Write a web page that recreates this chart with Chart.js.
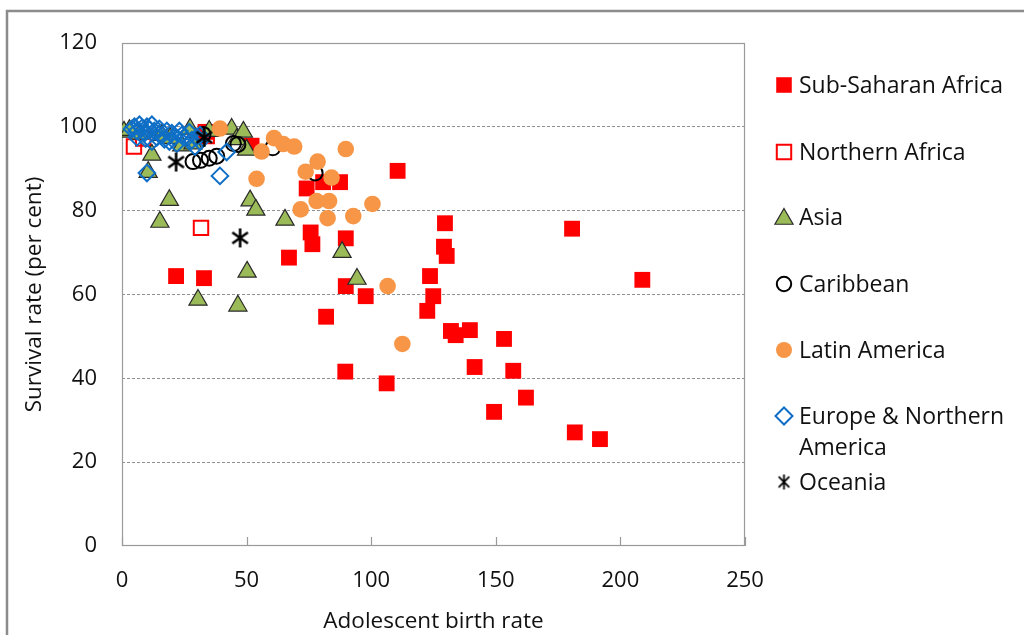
<!DOCTYPE html>
<html>
<head>
<meta charset="utf-8">
<script src="https://cdn.jsdelivr.net/npm/chart.js@4/dist/chart.umd.min.js"></script>
<style>
  html, body { margin: 0; padding: 0; background: #ffffff; }
  #wrap { position: relative; width: 1024px; height: 635px; overflow: hidden; }
</style>
</head>
<body>
<div id="wrap"><canvas id="c" width="1024" height="635"></canvas></div>
<script>
// ---------------- DATA ----------------
const seriesNames = ["Sub-Saharan Africa", "Northern Africa", "Asia", "Caribbean", "Latin America", "Europe & Northern America", "Oceania"];
const xTickValues = [0, 50, 100, 150, 200, 250];
const yTickValues = [0, 20, 40, 60, 80, 100, 120];
const xAxisTitle = "Adolescent birth rate";
const yAxisTitle = "Survival rate (per cent)";

const ssaX = [21.7, 32.9, 67.0, 74.1, 80.7, 87.5, 110.6, 75.7, 76.4, 89.8, 89.8, 97.8, 81.9, 89.6, 106.2, 129.6, 129.2, 130.3, 123.6, 124.9, 122.5, 132.0, 133.9, 139.6, 141.5, 153.3, 157.0, 162.1, 149.3, 181.7, 191.8, 180.6, 208.8, 33.5, 52.0];
const ssaY = [64.4, 63.9, 68.8, 85.3, 86.8, 86.8, 89.5, 74.8, 72.0, 73.4, 62.0, 59.6, 54.7, 41.6, 38.8, 77.0, 71.4, 69.2, 64.4, 59.6, 56.1, 51.3, 50.3, 51.5, 42.7, 49.4, 41.8, 35.4, 32.0, 27.1, 25.5, 75.7, 63.5, 98.8, 95.5];

const nafX = [4.8, 8.5, 31.7, 34.0];
const nafY = [95.3, 97.2, 75.9, 97.8];

const asiaX = [0.8, 3.0, 7.0, 12.0, 10.5, 15.2, 16.0, 19.0, 19.3, 24.0, 27.3, 28.5, 30.5, 35.0, 44.0, 46.0, 48.7, 50.0, 46.5, 50.2, 51.4, 53.7, 65.4, 88.3, 94.3];
const asiaY = [98.8, 99.2, 98.3, 93.3, 89.2, 77.3, 98.0, 82.5, 97.3, 95.5, 99.5, 96.0, 58.7, 99.0, 99.5, 97.0, 98.8, 94.5, 57.3, 65.4, 82.4, 80.2, 77.8, 70.1, 63.7];

const cariX = [28.5, 31.5, 35.0, 38.0, 32.5, 44.7, 46.5, 60.5, 77.5];
const cariY = [91.7, 92.0, 92.5, 93.0, 98.2, 96.0, 95.8, 95.0, 89.0];

const latX = [39.3, 56.0, 54.0, 61.0, 64.7, 69.1, 89.8, 78.5, 73.7, 84.1, 78.1, 83.1, 71.7, 82.5, 92.8, 100.5, 106.6, 112.5];
const latY = [99.6, 94.1, 87.6, 97.3, 95.9, 95.3, 94.7, 91.7, 89.3, 87.9, 82.3, 82.3, 80.3, 78.2, 78.7, 81.6, 62.0, 48.2];

const eurX = [4, 5, 6, 7, 8, 9, 10, 11, 12, 13, 14, 15, 16, 17, 18, 19, 20, 21, 22, 23, 24, 25, 27, 28, 9.5, 12, 6, 30, 10, 39.3, 42, 31.3, 29.3, 31.3];
const eurY = [99.5, 100, 99, 100.5, 99.7, 98.5, 100, 99.3, 100.5, 99, 97.5, 99.5, 98, 97, 99, 96.5, 98.5, 97.5, 96, 99, 98, 97.5, 98.7, 96.8, 97.2, 96.5, 97.5, 97.6, 89, 88.3, 94, 98, 95.3, 96.5];

const oceX = [21.7, 47.4, 33.0];
const oceY = [91.6, 73.5, 97.5];

// ---------------- STYLE ----------------
const FONT = "'Open Sans', Lato, 'DejaVu Sans', sans-serif";
const TEXT = "#111111";
const FS_TICK = 22;
const FS_TITLE = 22.5;
const FS_LEGEND = 23;

function makeAsterisk(size, lw, color, angles) {
  const c = document.createElement('canvas');
  c.width = size; c.height = size;
  const g = c.getContext('2d');
  g.strokeStyle = color; g.lineWidth = lw; g.lineCap = 'butt';
  const cx = size / 2, cy = size / 2, r = size / 2 - 1;
  g.beginPath();
  for (const a of angles) {
    const rad = a * Math.PI / 180;
    g.moveTo(cx - r * Math.cos(rad), cy - r * Math.sin(rad));
    g.lineTo(cx + r * Math.cos(rad), cy + r * Math.sin(rad));
  }
  g.stroke();
  return c;
}
const asteriskPlot = makeAsterisk(21, 2.6, '#000', [90, 35, 145]);
const asteriskLegend = makeAsterisk(17, 1.8, '#000', [90, 45, 135]);

function pts(xs, ys) { return xs.map((x, i) => ({ x: x, y: ys[i] })); }

const styles = [
  { pointStyle: 'rect', radius: 11.2, bg: '#ff0000', border: '#ff0000', bw: 0 },
  { pointStyle: 'rect', radius: 10.2, bg: 'rgba(0,0,0,0)', border: '#ff0000', bw: 2 },
  { pointStyle: 'triangle', radius: 10.5, bg: '#9bbb59', border: '#2a2a2a', bw: 1.2 },
  { pointStyle: 'circle', radius: 7.5, bg: 'rgba(0,0,0,0)', border: '#000000', bw: 2 },
  { pointStyle: 'circle', radius: 8.3, bg: '#f79646', border: '#f79646', bw: 0 },
  { pointStyle: 'rectRot', radius: 8.3, bg: 'rgba(0,0,0,0)', border: '#0f6fc6', bw: 2 },
  { pointStyle: asteriskPlot, radius: 9, bg: '#000', border: '#000', bw: 0 }
];
const seriesData = [pts(ssaX, ssaY), pts(nafX, nafY), pts(asiaX, asiaY), pts(cariX, cariY), pts(latX, latY), pts(eurX, eurY), pts(oceX, oceY)];

const datasets = seriesNames.map((name, i) => ({
  label: name,
  data: seriesData[i],
  order: seriesNames.length - 1 - i,
  pointStyle: styles[i].pointStyle,
  pointRadius: styles[i].radius,
  pointBackgroundColor: styles[i].bg,
  pointBorderColor: styles[i].border,
  pointBorderWidth: styles[i].bw,
  showLine: false
}));

// ---------------- PLUGINS ----------------
const framePlugin = {
  id: 'frame',
  beforeDatasetsDraw(chart) {
    const { ctx, chartArea: a } = chart;
    ctx.save();
    ctx.strokeStyle = '#9a9a9a';
    ctx.lineWidth = 1.2;
    ctx.strokeRect(a.left + 0.5, a.top + 0.5, a.right - a.left - 1, a.bottom - a.top - 1);
    const xs = chart.scales.x;
    ctx.beginPath();
    xTickValues.forEach(v => {
      const px = Math.round(xs.getPixelForValue(v)) + 0.5;
      ctx.moveTo(px, a.bottom);
      ctx.lineTo(px, a.bottom - 9);
    });
    ctx.stroke();
    ctx.restore();
  },
  afterDraw(chart) {
    const { ctx } = chart;
    ctx.save();
    ctx.strokeStyle = '#8c8c8c';
    ctx.lineWidth = 2.5;
    ctx.beginPath();
    ctx.moveTo(7, 700);
    ctx.lineTo(7, 11);
    ctx.lineTo(1100, 11);
    ctx.stroke();

    const lx = 784, tx = 799;
    const ys = [85, 152, 217, 284, 350, 416, 482];
    const legendRadius = [11.0, 10.2, 10.5, 7.2, 8.0, 8.5, 8.5];
    ctx.font = FS_LEGEND + "px " + FONT;
    ctx.textBaseline = 'middle';
    ctx.textAlign = 'left';
    seriesNames.forEach((name, i) => {
      const s = styles[i];
      ctx.save();
      ctx.fillStyle = s.bg;
      ctx.strokeStyle = s.border;
      ctx.lineWidth = s.bw;
      const ps = i === 6 ? asteriskLegend : s.pointStyle;
      Chart.helpers.drawPoint(ctx, { pointStyle: ps, rotation: 0, radius: legendRadius[i], borderWidth: s.bw }, lx, ys[i] + (i === 2 ? 2 : 0));
      ctx.restore();
      ctx.fillStyle = TEXT;
      const ty = ys[i] + 1.5;
      if (i === 5) {
        ctx.fillText("Europe & Northern", tx, ty);
        ctx.fillText("America", tx, ty + 31);
      } else {
        ctx.fillText(name, tx, ty);
      }
    });
    ctx.restore();
  }
};

// ---------------- CHART ----------------
new Chart(document.getElementById('c'), {
  type: 'scatter',
  data: { datasets: datasets },
  options: {
    responsive: false,
    animation: false,
    events: [],
    layout: { padding: { left: 0, top: 43, right: 279, bottom: 0 } },
    plugins: { legend: { display: false }, tooltip: { enabled: false } },
    scales: {
      x: {
        type: 'linear',
        position: 'bottom',
        min: 0, max: 250,
        afterBuildTicks: (s) => { s.ticks = xTickValues.map(v => ({ value: v })); },
        ticks: { color: TEXT, font: { family: FONT, size: FS_TICK }, padding: 22, maxRotation: 0, autoSkip: false },
        grid: { display: false, drawTicks: false },
        border: { display: false },
        title: { display: true, text: xAxisTitle, color: TEXT, font: { family: FONT, size: FS_TITLE }, padding: { top: 0, bottom: 0 } },
        afterFit: (s) => { s.height = 89; }
      },
      y: {
        type: 'linear',
        min: 0, max: 120,
        afterBuildTicks: (s) => { s.ticks = yTickValues.map(v => ({ value: v })); },
        ticks: { color: TEXT, font: { family: FONT, size: FS_TICK }, padding: 25 },
        grid: {
          drawTicks: false,
          lineWidth: 1,
          color: (c) => (c.tick && c.tick.value > 0 && c.tick.value < 120) ? '#8f8f8f' : 'rgba(0,0,0,0)'
        },
        border: { display: false, dash: [3, 2] },
        title: { display: true, text: yAxisTitle, color: TEXT, font: { family: FONT, size: FS_TITLE }, padding: { top: 21, bottom: 0 } },
        afterFit: (s) => { s.width = 122; }
      }
    }
  },
  plugins: [framePlugin]
});
</script>
</body>
</html>
